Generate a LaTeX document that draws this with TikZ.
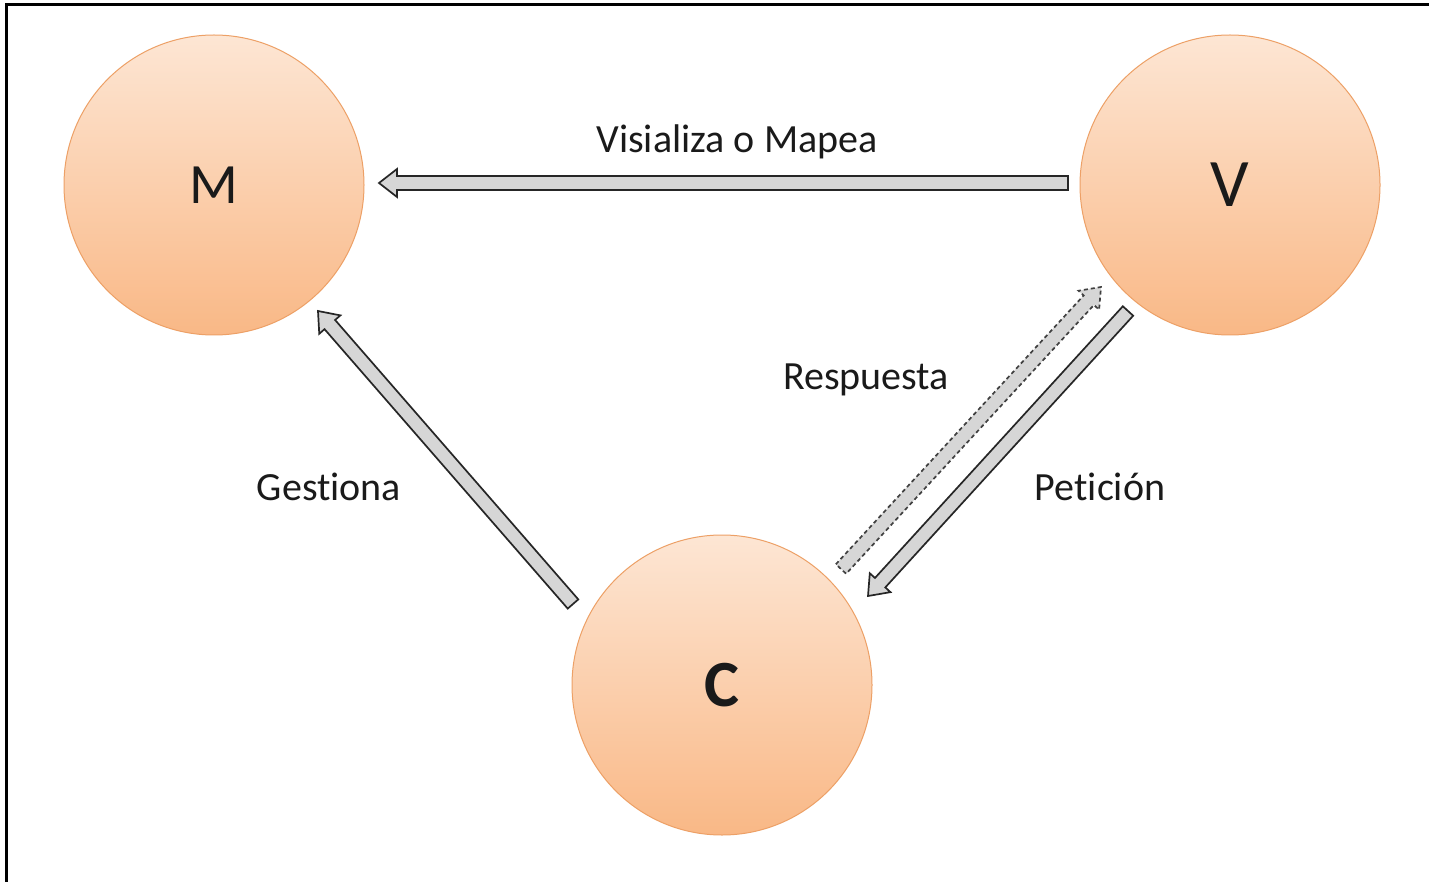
\documentclass[tikz,border=0pt]{standalone}
\usepackage{fontspec}
\setmainfont{Carlito}[Ligatures={NoCommon,NoRare}]
\usetikzlibrary{calc}
\definecolor{circtop}{HTML}{FDE6D4}
\definecolor{circbot}{HTML}{F9B886}
\definecolor{circline}{HTML}{EDA066}
\definecolor{arrfill}{HTML}{D6D6D6}
\definecolor{txt}{HTML}{1A1A1A}
\tikzset{
  mvc/.style={circle, minimum size=300pt, inner sep=0pt, draw=circline, line width=1pt,
    top color=circtop, bottom color=circbot, text=txt},
  lbl/.style={text=txt, font=\fontsize{40}{44}\selectfont, inner sep=0pt},
  blockarrow/.style={draw=black!85, fill=arrfill, line width=1.7pt, line join=miter},
  dashblock/.style={blockarrow, dashed, dash pattern=on 4pt off 3pt, draw=black!75}
}
\newcommand\blockarr[3][]{%
  \path[blockarrow,#1]
    ($(#2)!7pt!90:(#3)$) -- ($($(#3)!18pt!(#2)$)!7pt!90:(#3)$) --
    ($($(#3)!18pt!(#2)$)!14pt!90:(#3)$) -- (#3) --
    ($($(#3)!18pt!(#2)$)!14pt!-90:(#3)$) --
    ($($(#3)!18pt!(#2)$)!7pt!-90:(#3)$) -- ($(#2)!7pt!-90:(#3)$) -- cycle;}
\begin{document}
\begin{tikzpicture}[x=1pt,y=-1pt]
  \useasboundingbox (0,0) rectangle (1429,882);
  \fill[white] (0,0) rectangle (1429,882);
  \draw[line width=3pt, black] (6,882) -- (6,4.5) -- (1429,4.5);
  \node[mvc, font=\fontsize{57}{60}\selectfont] (M) at (214,185) {M};
  \node[mvc, font=\fontsize{68}{70}\selectfont] (V) at (1230,185) {V};
  \node[mvc, font=\bfseries\fontsize{66}{70}\selectfont] (C) at (722,685) {C};
  \coordinate (vmS) at (1068,183);
  \coordinate (vmE) at (379,183);
  \coordinate (cmS) at (573,604);
  \coordinate (cmE) at (318,311);
  \coordinate (vcS) at (1128,311);
  \coordinate (vcE) at (868,596);
  \coordinate (cvS) at (841,569);
  \coordinate (cvE) at (1101,287);
  \blockarr{vmS}{vmE}
  \blockarr{cmS}{cmE}
  \blockarr{vcS}{vcE}
  \blockarr[dashblock]{cvS}{cvE}
  \node[lbl] (l1) at (737,142) {Visializa o Mapea};
  \node[lbl] (l2) at (866,380) {Respuesta};
  \node[lbl] (l3) at (329,487) {Gestiona};
  \node[lbl] (l4) at (1100,487) {Petición};
\end{tikzpicture}
\end{document}
